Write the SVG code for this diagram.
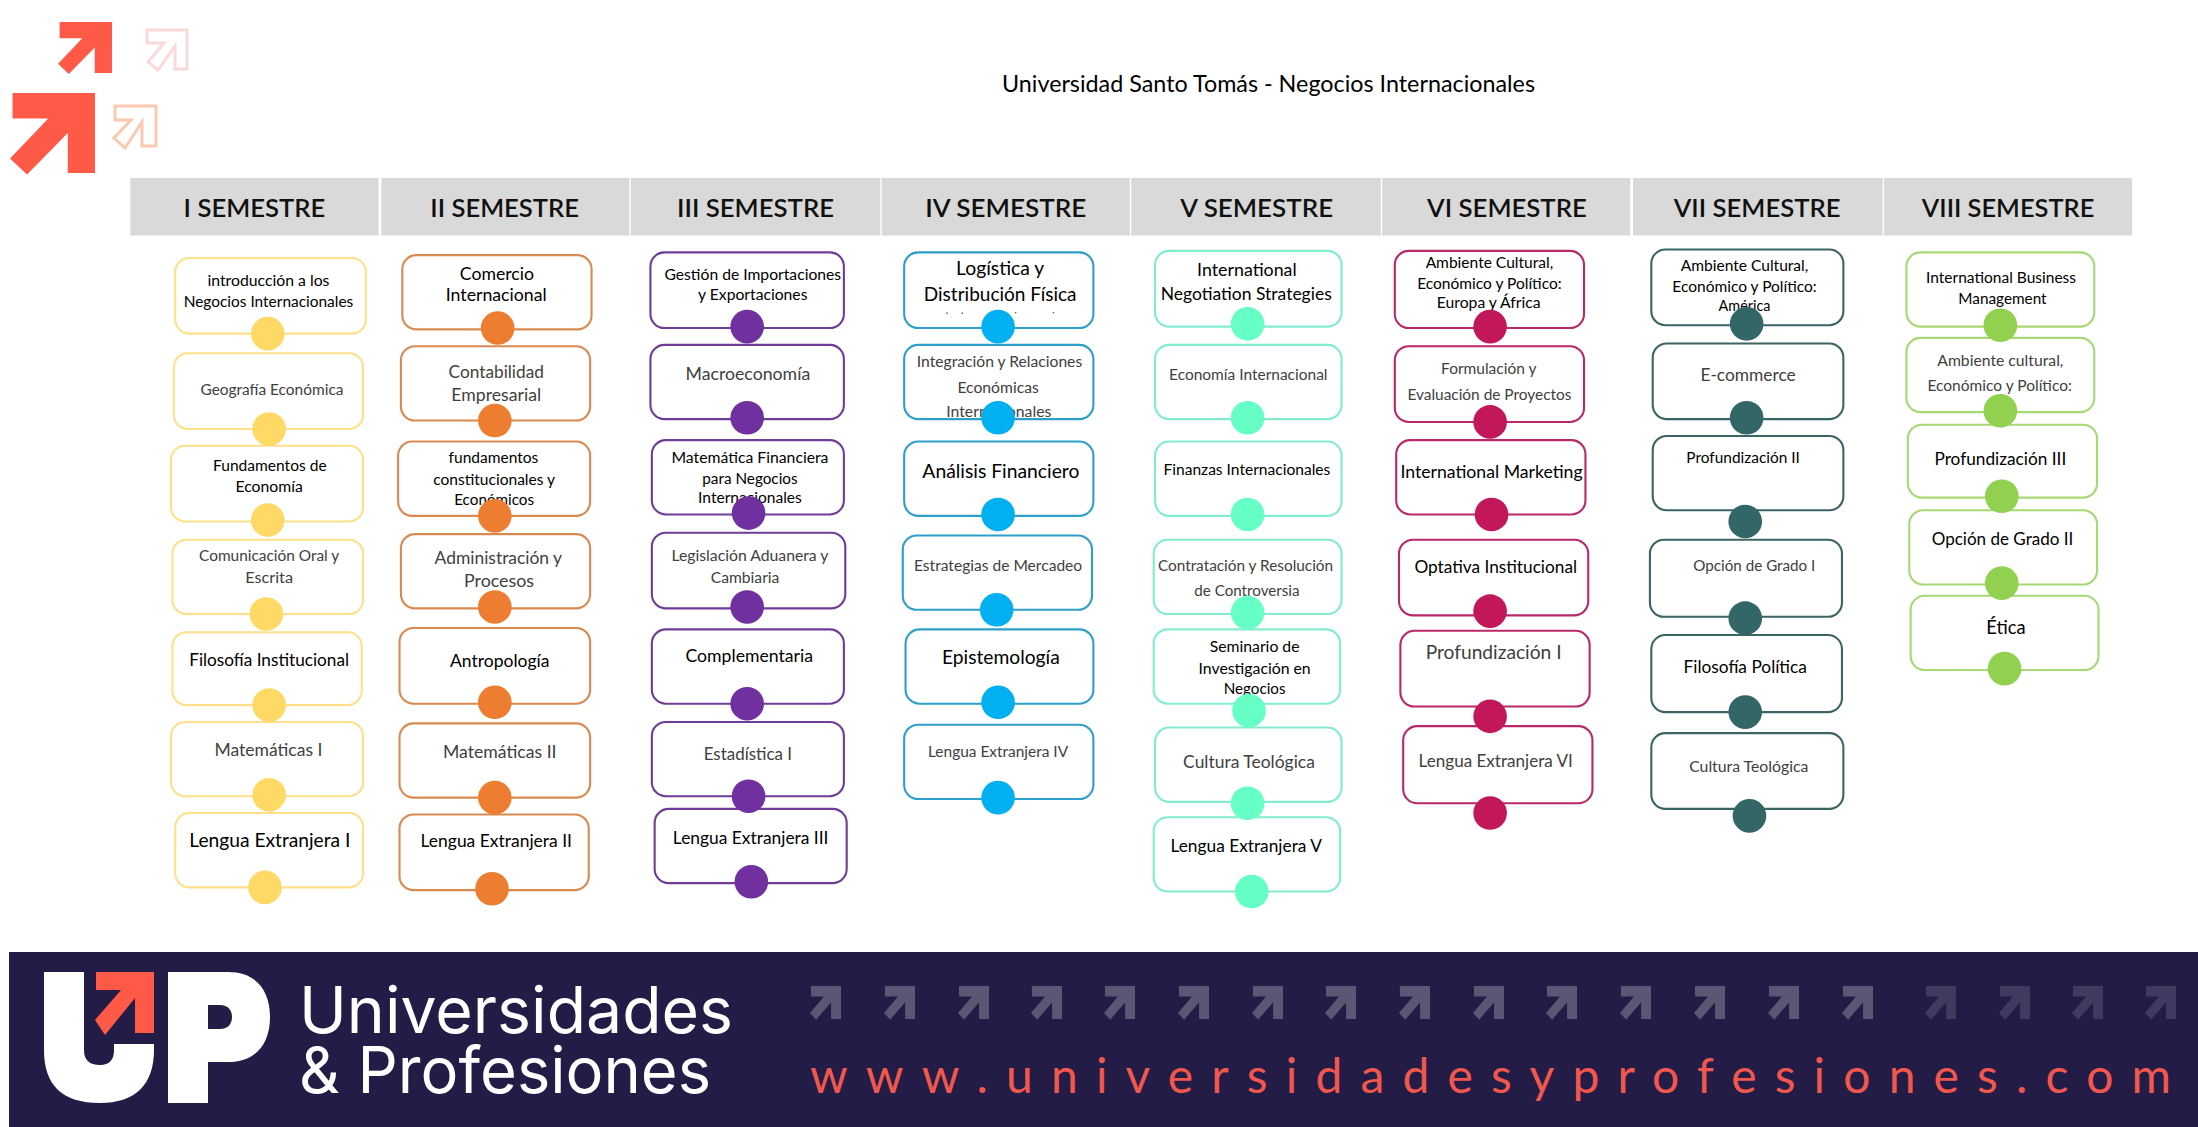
<svg xmlns="http://www.w3.org/2000/svg" width="2198" height="1127" viewBox="0 0 2198 1127">
<style>
text{font-family:Lato,"Liberation Sans",sans-serif}
.n rect{fill:#fff;stroke-width:1.5}
.n circle{stroke:none}
.n text{fill:#000;font-size:11.5px}
.n text.g{fill:#404040}
.m{font-size:12.5px!important}.l{font-size:13.5px!important}
.c1 rect{stroke:#FFE08A}.c1 circle{fill:#FFD966}
.c2 rect{stroke:#D98A50}.c2 circle{fill:#ED7D31}
.c3 rect{stroke:#6F3C98}.c3 circle{fill:#7030A0}
.c4 rect{stroke:#2E9FCB}.c4 circle{fill:#00B0F0}
.c5 rect{stroke:#82EBD0}.c5 circle{fill:#66FFC6}
.c6 rect{stroke:#B8286A}.c6 circle{fill:#C2185B}
.c7 rect{stroke:#3D6464}.c7 circle{fill:#336666}
.c8 rect{stroke:#A6D873}.c8 circle{fill:#92D050}
.h rect{fill:#D9D9D9}
.h text{font-size:17.5px;font-weight:600;fill:#111}
.fa{fill:#5B5674}.fd{fill:#3F3A5E}
</style>
<defs>
<polygon id="ar" points="0.03,0 1,0 1,1 0.68,1 0.68,0.5 0.2,1.02 0,0.82 0.45,0.32 0.03,0.32"/>
</defs>
<rect width="2198" height="1127" fill="#fff"/>
<g id="logo-arrows">
<use href="#ar" transform="translate(58,22) scale(54,51)" fill="#FF5A48"/>
<use href="#ar" transform="translate(10,93) scale(85,80)" fill="#FF5A48"/>
<polygon points="147,30 187,30 187,69 175,69 175,46 158,70 148,62 164,43 147,43" fill="none" stroke="#FBD9DA" stroke-width="3"/>
<polygon points="115,106 156,106 156,146 142,146 142,122 125,148 114,138 131,120 115,120" fill="none" stroke="#FBC9AE" stroke-width="3"/>
</g>
<text id="title" x="1002" y="92" font-size="23" fill="#000" textLength="533" lengthAdjust="spacingAndGlyphs">Universidad Santo Tomás - Negocios Internacionales</text>
<g transform="scale(1.4018)">
<g id="headers" class="h">
<rect x="93" y="127" width="177" height="41"/><rect x="272" y="127" width="177" height="41"/><rect x="450" y="127" width="178" height="41"/><rect x="629" y="127" width="177" height="41"/><rect x="807" y="127" width="178" height="41"/><rect x="986" y="127" width="177" height="41"/><rect x="1165" y="127" width="178" height="41"/><rect x="1344" y="127" width="177" height="41"/>
<text x="131" y="155" textLength="101" lengthAdjust="spacingAndGlyphs">I SEMESTRE</text>
<text x="307" y="155" textLength="106" lengthAdjust="spacingAndGlyphs">II SEMESTRE</text>
<text x="483" y="155" textLength="112" lengthAdjust="spacingAndGlyphs">III SEMESTRE</text>
<text x="660" y="155" textLength="115" lengthAdjust="spacingAndGlyphs">IV SEMESTRE</text>
<text x="842" y="155" textLength="109" lengthAdjust="spacingAndGlyphs">V SEMESTRE</text>
<text x="1018" y="155" textLength="114" lengthAdjust="spacingAndGlyphs">VI SEMESTRE</text>
<text x="1194" y="155" textLength="119" lengthAdjust="spacingAndGlyphs">VII SEMESTRE</text>
<text x="1371" y="155" textLength="123" lengthAdjust="spacingAndGlyphs">VIII SEMESTRE</text>
</g>
<g id="nodes">
<g id="s1-7" class="n c1"><rect x="125" y="580" width="134" height="53" rx="10"/><text class="l" x="135" y="604" textLength="115" lengthAdjust="spacingAndGlyphs">Lengua Extranjera I</text><circle cx="189" cy="633" r="12"/></g>
<g id="s1-6" class="n c1"><rect x="122" y="515" width="137" height="53" rx="10"/><text class="m g" x="153" y="539" textLength="77" lengthAdjust="spacingAndGlyphs">Matemáticas I</text><circle cx="192" cy="567" r="12"/></g>
<g id="s1-5" class="n c1"><rect x="123" y="451" width="135" height="52" rx="10"/><text class="m" x="135" y="475" textLength="114" lengthAdjust="spacingAndGlyphs">Filosofía Institucional</text><circle cx="192" cy="503" r="12"/></g>
<g id="s1-4" class="n c1"><rect x="123" y="385" width="136" height="53" rx="10"/><text class="g" x="142" y="400" textLength="100" lengthAdjust="spacingAndGlyphs">Comunicación Oral y</text><text class="g" x="175" y="416" textLength="34" lengthAdjust="spacingAndGlyphs">Escrita</text><circle cx="190" cy="438" r="12"/></g>
<g id="s1-3" class="n c1"><rect x="122" y="318" width="137" height="54" rx="10"/><text x="152" y="336" textLength="81" lengthAdjust="spacingAndGlyphs">Fundamentos de</text><text x="168" y="351" textLength="48" lengthAdjust="spacingAndGlyphs">Economía</text><circle cx="191" cy="371" r="12"/></g>
<g id="s1-2" class="n c1"><rect x="124" y="252" width="135" height="54" rx="10"/><text class="g" x="143" y="282" textLength="102" lengthAdjust="spacingAndGlyphs">Geografía Económica</text><circle cx="192" cy="306" r="12"/></g>
<g id="s1-1" class="n c1"><rect x="125" y="184" width="136" height="54" rx="10"/><text x="148" y="204" textLength="87" lengthAdjust="spacingAndGlyphs">introducción a los</text><text x="131" y="219" textLength="121" lengthAdjust="spacingAndGlyphs">Negocios Internacionales</text><circle cx="191" cy="238" r="12"/></g>

<g id="s2-7" class="n c2"><rect x="285" y="581" width="135" height="54" rx="10"/><text class="m" x="300" y="604" textLength="108" lengthAdjust="spacingAndGlyphs">Lengua Extranjera II</text><circle cx="351" cy="634" r="12"/></g>
<g id="s2-6" class="n c2"><rect x="285" y="516" width="136" height="53" rx="10"/><text class="m g" x="316" y="541" textLength="81" lengthAdjust="spacingAndGlyphs">Matemáticas II</text><circle cx="353" cy="569" r="12"/></g>
<g id="s2-5" class="n c2"><rect x="285" y="448" width="136" height="54" rx="10"/><text class="m" x="321" y="476" textLength="71" lengthAdjust="spacingAndGlyphs">Antropología</text><circle cx="353" cy="501" r="12"/></g>
<g id="s2-4" class="n c2"><rect x="286" y="381" width="135" height="53" rx="10"/><text class="m g" x="310" y="402" textLength="91" lengthAdjust="spacingAndGlyphs">Administración y</text><text class="m g" x="331" y="419" textLength="50" lengthAdjust="spacingAndGlyphs">Procesos</text><circle cx="353" cy="433" r="12"/></g>
<g id="s2-3" class="n c2"><rect x="284" y="315" width="137" height="53" rx="10"/><text x="320" y="330" textLength="64" lengthAdjust="spacingAndGlyphs">fundamentos</text><text x="309" y="346" textLength="87" lengthAdjust="spacingAndGlyphs">constitucionales y</text><text x="324" y="360" textLength="57" lengthAdjust="spacingAndGlyphs">Económicos</text><circle cx="353" cy="368" r="12"/></g>
<g id="s2-2" class="n c2"><rect x="286" y="247" width="135" height="53" rx="10"/><text class="m g" x="320" y="270" textLength="68" lengthAdjust="spacingAndGlyphs">Contabilidad</text><text class="m g" x="322" y="286" textLength="64" lengthAdjust="spacingAndGlyphs">Empresarial</text><circle cx="353" cy="300" r="12"/></g>
<g id="s2-1" class="n c2"><rect x="287" y="182" width="135" height="53" rx="10"/><text class="m" x="328" y="200" textLength="53" lengthAdjust="spacingAndGlyphs">Comercio</text><text class="m" x="318" y="215" textLength="72" lengthAdjust="spacingAndGlyphs">Internacional</text><circle cx="355" cy="234" r="12"/></g>

<g id="s3-7" class="n c3"><rect x="467" y="577" width="137" height="53" rx="10"/><text class="m" x="480" y="602" textLength="111" lengthAdjust="spacingAndGlyphs">Lengua Extranjera III</text><circle cx="536" cy="629" r="12"/></g>
<g id="s3-6" class="n c3"><rect x="465" y="515" width="137" height="53" rx="10"/><text class="m g" x="502" y="542" textLength="63" lengthAdjust="spacingAndGlyphs">Estadística I</text><circle cx="534" cy="568" r="12"/></g>
<g id="s3-5" class="n c3"><rect x="465" y="449" width="137" height="53" rx="10"/><text class="m" x="489" y="472" textLength="91" lengthAdjust="spacingAndGlyphs">Complementaria</text><circle cx="533" cy="502" r="12"/></g>
<g id="s3-4" class="n c3"><rect x="465" y="380" width="138" height="54" rx="10"/><text class="g" x="479" y="400" textLength="112" lengthAdjust="spacingAndGlyphs">Legislación Aduanera y</text><text class="g" x="507" y="416" textLength="49" lengthAdjust="spacingAndGlyphs">Cambiaria</text><circle cx="533" cy="433" r="12"/></g>
<g id="s3-3" class="n c3"><rect x="465" y="314" width="137" height="53" rx="10"/><text x="479" y="330" textLength="112" lengthAdjust="spacingAndGlyphs">Matemática Financiera</text><text x="501" y="345" textLength="68" lengthAdjust="spacingAndGlyphs">para Negocios</text><text x="498" y="359" textLength="74" lengthAdjust="spacingAndGlyphs">Internacionales</text><circle cx="534" cy="366" r="12"/></g>
<g id="s3-2" class="n c3"><rect x="464" y="246" width="138" height="53" rx="10"/><text class="m g" x="489" y="271" textLength="89" lengthAdjust="spacingAndGlyphs">Macroeconomía</text><circle cx="533" cy="298" r="12"/></g>
<g id="s3-1" class="n c3"><rect x="464" y="180" width="138" height="54" rx="10"/><text x="474" y="200" textLength="126" lengthAdjust="spacingAndGlyphs">Gestión de Importaciones</text><text x="498" y="214" textLength="78" lengthAdjust="spacingAndGlyphs">y Exportaciones</text><circle cx="533" cy="233" r="12"/></g>

<g id="s4-6" class="n c4"><rect x="645" y="517" width="135" height="53" rx="10"/><text class="g" x="662" y="540" textLength="100" lengthAdjust="spacingAndGlyphs">Lengua Extranjera IV</text><circle cx="712" cy="569" r="12"/></g>
<g id="s4-5" class="n c4"><rect x="646" y="449" width="134" height="53" rx="10"/><text class="l" x="672" y="474" textLength="84" lengthAdjust="spacingAndGlyphs">Epistemología</text><circle cx="712" cy="501" r="12"/></g>
<g id="s4-4" class="n c4"><rect x="644" y="382" width="135" height="53" rx="10"/><text class="g" x="652" y="407" textLength="120" lengthAdjust="spacingAndGlyphs">Estrategias de Mercadeo</text><circle cx="711" cy="435" r="12"/></g>
<g id="s4-3" class="n c4"><rect x="645" y="315" width="135" height="53" rx="10"/><text class="l" x="658" y="341" textLength="112" lengthAdjust="spacingAndGlyphs">Análisis Financiero</text><circle cx="712" cy="367" r="12"/></g>
<g id="s4-2" class="n c4"><rect x="645" y="246" width="135" height="53" rx="10"/><text class="g" x="654" y="262" textLength="118" lengthAdjust="spacingAndGlyphs">Integración y Relaciones</text><text class="g" x="683" y="280" textLength="58" lengthAdjust="spacingAndGlyphs">Económicas</text><text class="g" x="675" y="297.5" textLength="75" lengthAdjust="spacingAndGlyphs">Internacionales</text><circle cx="712" cy="298" r="12"/></g>
<g id="s4-1" class="n c4"><rect x="645" y="180" width="135" height="54" rx="10"/><text class="l" x="682" y="196" textLength="63" lengthAdjust="spacingAndGlyphs">Logística y</text><text class="l" x="659" y="215" textLength="109" lengthAdjust="spacingAndGlyphs">Distribución Física</text><path d="M675 223.5h1M686 223.5h1M724 223h1M751 223h1" stroke="#555" stroke-width="1" fill="none"/><circle cx="712" cy="233" r="12"/></g>

<g id="s5-7" class="n c5"><rect x="823" y="583" width="133" height="53" rx="10"/><text class="m" x="835" y="608" textLength="108" lengthAdjust="spacingAndGlyphs">Lengua Extranjera V</text><circle cx="893" cy="636" r="12"/></g>
<g id="s5-6" class="n c5"><rect x="824" y="519" width="133" height="53" rx="10"/><text class="m g" x="844" y="548" textLength="94" lengthAdjust="spacingAndGlyphs">Cultura Teológica</text><circle cx="890" cy="573" r="12"/></g>
<g id="s5-5" class="n c5"><rect x="823" y="449" width="133" height="53" rx="10"/><text x="863" y="465" textLength="64" lengthAdjust="spacingAndGlyphs">Seminario de</text><text x="855" y="481" textLength="80" lengthAdjust="spacingAndGlyphs">Investigación en</text><text x="873" y="495" textLength="44" lengthAdjust="spacingAndGlyphs">Negocios</text><circle cx="891" cy="507" r="12"/></g>
<g id="s5-4" class="n c5"><rect x="823" y="385" width="134" height="53" rx="10"/><text class="g" x="826" y="407" textLength="125" lengthAdjust="spacingAndGlyphs">Contratación y Resolución</text><text class="g" x="852" y="425" textLength="75" lengthAdjust="spacingAndGlyphs">de Controversia</text><circle cx="890" cy="437" r="12"/></g>
<g id="s5-3" class="n c5"><rect x="824" y="315" width="133" height="53" rx="10"/><text x="830" y="339" textLength="119" lengthAdjust="spacingAndGlyphs">Finanzas Internacionales</text><circle cx="890" cy="367" r="12"/></g>
<g id="s5-2" class="n c5"><rect x="824" y="246" width="133" height="53" rx="10"/><text class="g" x="834" y="271" textLength="113" lengthAdjust="spacingAndGlyphs">Economía Internacional</text><circle cx="890" cy="298" r="12"/></g>
<g id="s5-1" class="n c5"><rect x="824" y="179" width="133" height="54" rx="10"/><text class="m" x="854" y="197" textLength="71" lengthAdjust="spacingAndGlyphs">International</text><text class="m" x="828" y="214" textLength="122" lengthAdjust="spacingAndGlyphs">Negotiation Strategies</text><circle cx="890" cy="231" r="12"/></g>

<g id="s6-6" class="n c6"><rect x="1001" y="518" width="135" height="55" rx="10"/><text class="m g" x="1012" y="547" textLength="110" lengthAdjust="spacingAndGlyphs">Lengua Extranjera VI</text><circle cx="1063" cy="580" r="12"/></g>
<g id="s6-5" class="n c6"><rect x="999" y="450" width="135" height="54" rx="10"/><text class="l g" x="1017" y="470" textLength="97" lengthAdjust="spacingAndGlyphs">Profundización I</text><circle cx="1063" cy="511" r="12"/></g>
<g id="s6-4" class="n c6"><rect x="998" y="385" width="135" height="54" rx="10"/><text class="m" x="1009" y="409" textLength="116" lengthAdjust="spacingAndGlyphs">Optativa Institucional</text><circle cx="1063" cy="436" r="12"/></g>
<g id="s6-3" class="n c6"><rect x="996" y="314" width="135" height="53" rx="10"/><text class="m" x="999" y="341" textLength="130" lengthAdjust="spacingAndGlyphs">International Marketing</text><circle cx="1064" cy="367" r="12"/></g>
<g id="s6-2" class="n c6"><rect x="995" y="247" width="135" height="54" rx="10"/><text class="g" x="1028" y="267" textLength="68" lengthAdjust="spacingAndGlyphs">Formulación y</text><text class="g" x="1004" y="285" textLength="117" lengthAdjust="spacingAndGlyphs">Evaluación de Proyectos</text><circle cx="1063" cy="301" r="12"/></g>
<g id="s6-1" class="n c6"><rect x="995" y="179" width="135" height="55" rx="10"/><text x="1017" y="191" textLength="91" lengthAdjust="spacingAndGlyphs">Ambiente Cultural,</text><text x="1011" y="206" textLength="103" lengthAdjust="spacingAndGlyphs">Económico y Político:</text><text x="1025" y="220" textLength="74" lengthAdjust="spacingAndGlyphs">Europa y África</text><circle cx="1063" cy="233" r="12"/></g>

<g id="s7-6" class="n c7"><rect x="1178" y="523" width="137" height="54" rx="10"/><text class="g" x="1205" y="551" textLength="85" lengthAdjust="spacingAndGlyphs">Cultura Teológica</text><circle cx="1248" cy="582" r="12"/></g>
<g id="s7-5" class="n c7"><rect x="1178" y="453" width="136" height="55" rx="10"/><text class="m" x="1201" y="480" textLength="88" lengthAdjust="spacingAndGlyphs">Filosofía Política</text><circle cx="1245" cy="508" r="12"/></g>
<g id="s7-4" class="n c7"><rect x="1177" y="385" width="137" height="55" rx="10"/><text class="g" x="1208" y="407" textLength="87" lengthAdjust="spacingAndGlyphs">Opción de Grado I</text><circle cx="1245" cy="441" r="12"/></g>
<g id="s7-3" class="n c7"><rect x="1179" y="311" width="136" height="53" rx="10"/><text x="1203" y="330" textLength="81" lengthAdjust="spacingAndGlyphs">Profundización II</text><circle cx="1245" cy="372" r="12"/></g>
<g id="s7-2" class="n c7"><rect x="1179" y="245" width="136" height="54" rx="10"/><text class="m g" x="1213" y="272" textLength="68" lengthAdjust="spacingAndGlyphs">E-commerce</text><circle cx="1246" cy="298" r="12"/></g>
<g id="s7-1" class="n c7"><rect x="1178" y="178" width="137" height="54" rx="10"/><text x="1199" y="193" textLength="91" lengthAdjust="spacingAndGlyphs">Ambiente Cultural,</text><text x="1193" y="208" textLength="103" lengthAdjust="spacingAndGlyphs">Económico y Político:</text><text x="1226" y="222" textLength="37" lengthAdjust="spacingAndGlyphs">América</text><circle cx="1246" cy="231" r="12"/></g>

<g id="s8-5" class="n c8"><rect x="1363" y="425" width="134" height="53" rx="10"/><text class="l" x="1417" y="452" textLength="28" lengthAdjust="spacingAndGlyphs">Ética</text><circle cx="1430" cy="477" r="12"/></g>
<g id="s8-4" class="n c8"><rect x="1362" y="364" width="134" height="53" rx="10"/><text class="m" x="1378" y="389" textLength="101" lengthAdjust="spacingAndGlyphs">Opción de Grado II</text><circle cx="1428" cy="416" r="12"/></g>
<g id="s8-3" class="n c8"><rect x="1361" y="303" width="135" height="52" rx="10"/><text class="m" x="1380" y="332" textLength="94" lengthAdjust="spacingAndGlyphs">Profundización III</text><circle cx="1428" cy="354" r="12"/></g>
<g id="s8-2" class="n c8"><rect x="1360" y="241" width="134" height="53" rx="10"/><text class="g" x="1382" y="261" textLength="90" lengthAdjust="spacingAndGlyphs">Ambiente cultural,</text><text class="g" x="1375" y="279" textLength="103" lengthAdjust="spacingAndGlyphs">Económico y Político:</text><circle cx="1427" cy="293" r="12"/></g>
<g id="s8-1" class="n c8"><rect x="1360" y="180" width="134" height="53" rx="10"/><text x="1374" y="202" textLength="107" lengthAdjust="spacingAndGlyphs">International Business</text><text x="1397" y="217" textLength="63" lengthAdjust="spacingAndGlyphs">Management</text><circle cx="1427" cy="232" r="12"/></g>
</g>
</g>
<g id="connectors"/>
<g id="footer">
<rect x="9" y="952" width="2189" height="175" fill="#221C46"/>
<path id="logo-u" d="M44 972H84V1050Q84 1065 100 1065Q114 1065 114 1050V1044H154V1050C154 1085 135 1103 100 1103C62 1103 44 1085 44 1050Z" fill="#fff"/>
<polygon id="logo-up-arrow" points="96,972 154,972 154,1033 135,1033 135,998 105,1035 95,1020 121,990 96,990" fill="#FF5A48"/>
<path id="logo-p" fill-rule="evenodd" d="M168 972H228C256 972 270 990 270 1017C270 1046 254 1062 228 1062H208V1103H168ZM208 1005V1029H220C228 1029 232 1024 232 1017C232 1010 228 1005 220 1005Z" fill="#fff"/>
<text x="299" y="1033" font-size="64" fill="#fff" style="font-family:Inter,sans-serif" textLength="434" lengthAdjust="spacingAndGlyphs">Universidades</text>
<text x="299" y="1093" font-size="64" fill="#fff" style="font-family:Inter,sans-serif" textLength="412" lengthAdjust="spacingAndGlyphs">&amp; Profesiones</text>
<g id="footer-arrows" class="fa">
<use href="#ar" transform="translate(810,986) scale(31,33)"/><use href="#ar" transform="translate(884,986) scale(31,33)"/><use href="#ar" transform="translate(958,986) scale(31,33)"/><use href="#ar" transform="translate(1031,986) scale(31,33)"/><use href="#ar" transform="translate(1104,986) scale(31,33)"/><use href="#ar" transform="translate(1178,986) scale(31,33)"/><use href="#ar" transform="translate(1252,986) scale(31,33)"/><use href="#ar" transform="translate(1325,986) scale(31,33)"/><use href="#ar" transform="translate(1399,986) scale(31,33)"/><use href="#ar" transform="translate(1473,986) scale(31,33)"/><use href="#ar" transform="translate(1546,986) scale(31,33)"/><use href="#ar" transform="translate(1620,986) scale(31,33)"/><use href="#ar" transform="translate(1694,986) scale(31,33)"/><use href="#ar" transform="translate(1768,986) scale(31,33)"/><use href="#ar" transform="translate(1842,986) scale(31,33)"/>
<g class="fd"><use href="#ar" transform="translate(1925,986) scale(31,33)"/><use href="#ar" transform="translate(1999,986) scale(31,33)"/><use href="#ar" transform="translate(2072,986) scale(31,33)"/><use href="#ar" transform="translate(2145,986) scale(31,33)"/></g>
</g>
<text id="url" x="810" y="1093" font-size="48" fill="#F0584E" textLength="1361" lengthAdjust="spacing">www.universidadesyprofesiones.com</text>
</g>
</svg>
